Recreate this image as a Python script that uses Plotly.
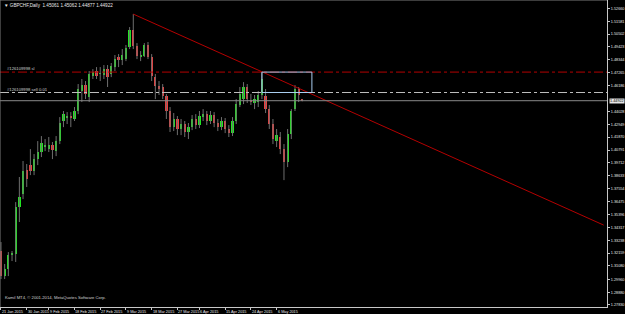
import plotly.graph_objects as go
import numpy as np

# ---- data (GBPCHF daily) ----
opens = [1.3233, 1.3023, 1.3082, 1.3199, 1.3207, 1.3601, 1.3710, 1.3911, 1.3953, 1.3903,
         1.4003, 1.4062, 1.4112, 1.4087, 1.4121, 1.4070, 1.4154, 1.4322, 1.4347, 1.4364,
         1.4339, 1.4406, 1.4573, 1.4623, 1.4523, 1.4699, 1.4741, 1.4716, 1.4707, 1.4757,
         1.4716, 1.4774, 1.4858, 1.4833, 1.4841, 1.4942, 1.5084, 1.4950, 1.4858, 1.4866,
         1.4959, 1.4858, 1.4690, 1.4615, 1.4607, 1.4531, 1.4406, 1.4271, 1.4339, 1.4255,
         1.4297, 1.4230, 1.4271, 1.4339, 1.4288, 1.4355, 1.4380, 1.4322, 1.4372, 1.4305,
         1.4271, 1.4322, 1.4255, 1.4221, 1.4322, 1.4456, 1.4506, 1.4607, 1.4498, 1.4473,
         1.4481, 1.4540, 1.4531, 1.4422, 1.4297, 1.4154, 1.4188, 1.4087, 1.3978, 1.4213,
         1.4422, 1.4590, 1.45061]
highs = [1.3308, 1.3124, 1.3224, 1.3233, 1.3643, 1.3853, 1.3987, 1.3962, 1.4087, 1.4045,
         1.4154, 1.4196, 1.4171, 1.4188, 1.4146, 1.4196, 1.4355, 1.4406, 1.4397, 1.4397,
         1.4439, 1.4632, 1.4674, 1.4657, 1.4741, 1.4757, 1.4774, 1.4774, 1.4791, 1.4791,
         1.4808, 1.4875, 1.4883, 1.4925, 1.4959, 1.5109, 1.5218, 1.4975, 1.4908, 1.4975,
         1.4984, 1.4883, 1.4716, 1.4657, 1.4632, 1.4548, 1.4439, 1.4389, 1.4364, 1.4339,
         1.4322, 1.4305, 1.4372, 1.4380, 1.4406, 1.4422, 1.4406, 1.4406, 1.4397, 1.4339,
         1.4355, 1.4347, 1.4288, 1.4355, 1.4506, 1.4607, 1.4648, 1.4632, 1.4548, 1.4540,
         1.4573, 1.4732, 1.4590, 1.4456, 1.4339, 1.4255, 1.4230, 1.4129, 1.4255, 1.4422,
         1.4623, 1.4607, 1.45062]
lows = [1.2998, 1.2998, 1.3023, 1.3149, 1.3141, 1.3476, 1.3668, 1.3769, 1.3869, 1.3869,
        1.3953, 1.4020, 1.4070, 1.4062, 1.4003, 1.4028, 1.4129, 1.4271, 1.4297, 1.4271,
        1.4322, 1.4380, 1.4481, 1.4506, 1.4481, 1.4674, 1.4674, 1.4657, 1.4674, 1.4607,
        1.4690, 1.4741, 1.4774, 1.4791, 1.4824, 1.4925, 1.4925, 1.4841, 1.4824, 1.4858,
        1.4841, 1.4657, 1.4506, 1.4540, 1.4506, 1.4339, 1.4230, 1.4238, 1.4204, 1.4204,
        1.4188, 1.4171, 1.4246, 1.4255, 1.4263, 1.4322, 1.4288, 1.4297, 1.4271, 1.4238,
        1.4246, 1.4221, 1.4188, 1.4196, 1.4297, 1.4439, 1.4464, 1.4473, 1.4456, 1.4422,
        1.4439, 1.4506, 1.4389, 1.4255, 1.4129, 1.4104, 1.4045, 1.3827, 1.3936, 1.4171,
        1.4406, 1.4481, 1.44877]
closes = [1.3023, 1.3082, 1.3199, 1.3216, 1.3601, 1.3685, 1.3903, 1.3836, 1.3903, 1.4003,
          1.4062, 1.4138, 1.4114, 1.4121, 1.4079, 1.4154, 1.4305, 1.4380, 1.4364, 1.4347,
          1.4406, 1.4590, 1.4623, 1.4548, 1.4716, 1.4732, 1.4699, 1.4724, 1.4757, 1.4690,
          1.4783, 1.4841, 1.4833, 1.4875, 1.4933, 1.5084, 1.4950, 1.4866, 1.4875, 1.4959,
          1.4858, 1.4699, 1.4615, 1.4590, 1.4531, 1.4406, 1.4271, 1.4339, 1.4255, 1.4297,
          1.4230, 1.4271, 1.4339, 1.4288, 1.4364, 1.4380, 1.4322, 1.4372, 1.4305, 1.4271,
          1.4322, 1.4255, 1.4221, 1.4322, 1.4464, 1.4548, 1.4607, 1.4506, 1.4489, 1.4506,
          1.4540, 1.4674, 1.4422, 1.4297, 1.4171, 1.4204, 1.4087, 1.3978, 1.4213, 1.4406,
          1.4590, 1.4540, 1.44922]

date_tick_idx = [0, 7, 13, 20, 27, 34, 41, 48, 54, 61, 68, 75]
date_tick_text = ["21 Jan 2015", "30 Jan 2015", "9 Feb 2015", "18 Feb 2015", "27 Feb 2015",
                  "9 Mar 2015", "18 Mar 2015", "27 Mar 2015", "6 Apr 2015", "15 Apr 2015",
                  "24 Apr 2015", "6 May 2015"]
price_ticks = [1.52660, 1.51581, 1.50502, 1.49423, 1.48344, 1.47265, 1.46186, 1.44028,
               1.42949, 1.41870, 1.40791, 1.39712, 1.38633, 1.37554, 1.36475, 1.35396,
               1.34317, 1.33238, 1.32159, 1.31080, 1.29960, 1.28880, 1.27830]

sl_level = 1.4732
entry_level = 1.4561
bid_level = 1.44922
order_id = "#126109998"
trend_x = [36, 164]
trend_y = [1.5218, 1.3450]
box_x = [71, 84.6]

title_text = "▼ GBPCHF,Daily  1.45061 1.45062 1.44877 1.44922"
copyright_text = "Kamil MT4, © 2001-2014, MetaQuotes Software Corp."

UP = "#22e622"
DOWN = "#f03c3c"
WICK = "#6e6e6e"
AXIS = "#c8c8c8"
FONT = "Liberation Sans"

# ---- figure ----
o = np.array(opens); h = np.array(highs); l = np.array(lows); c = np.array(closes)
n = len(o)
idx = np.arange(n)

wx, wy = [], []
for i in range(n):
    wx += [i, i, None]
    wy += [h[i], l[i], None]

fig = go.Figure()
fig.add_trace(go.Scatter(x=wx, y=wy, mode="lines", line=dict(color=WICK, width=1),
                         hoverinfo="skip", showlegend=False))
base = np.minimum(o, c)
height = np.maximum(np.abs(c - o), 0.0003)
colors = [UP if c[i] >= o[i] else DOWN for i in range(n)]
fig.add_trace(go.Bar(x=idx, y=height, base=base, width=0.62,
                     marker=dict(color=colors, line=dict(width=0)),
                     showlegend=False, hoverinfo="skip"))

# trend line
fig.add_trace(go.Scatter(x=trend_x, y=trend_y, mode="lines",
                         line=dict(color="#b40000", width=1), showlegend=False, hoverinfo="skip"))

# order lines
fig.add_hline(y=sl_level, line=dict(color="#b40000", width=1, dash="dashdot"))
fig.add_hline(y=entry_level, line=dict(color="#bdbdbd", width=1, dash="dashdot"))
fig.add_hline(y=bid_level, line=dict(color="#8a8a8a", width=1))

# rectangle
fig.add_shape(type="rect", x0=box_x[0], x1=box_x[1], y0=entry_level, y1=sl_level,
              line=dict(color="#a9cdf0", width=1), fillcolor="rgba(0,0,0,0)")

# frame (left / top)
fig.add_shape(type="line", xref="paper", yref="paper", x0=0, x1=1, y0=1, y1=1,
              line=dict(color="#7a7a7a", width=1))
fig.add_shape(type="line", xref="paper", yref="paper", x0=0, x1=0, y0=0, y1=1,
              line=dict(color="#7a7a7a", width=1))

SMALL = 3.8
ann = []
ann.append(dict(text=title_text, xref="paper", yref="paper", x=0.004, y=0.997,
                xanchor="left", yanchor="top", showarrow=False,
                font=dict(family=FONT, size=4.6, color="#e8e8e8")))
ann.append(dict(text=copyright_text, xref="paper", yref="paper", x=0.005, y=0.03,
                xanchor="left", yanchor="middle", showarrow=False,
                font=dict(family=FONT, size=4.2, color="#d0d0d0")))
ann.append(dict(text=order_id + " sl", xref="paper", yref="y", x=0.008, y=sl_level,
                xanchor="left", yanchor="bottom", showarrow=False, yshift=-1,
                font=dict(family=FONT, size=4.2, color="#d0d0d0")))
ann.append(dict(text=order_id + " sell 0.01", xref="paper", yref="y", x=0.008, y=entry_level,
                xanchor="left", yanchor="bottom", showarrow=False, yshift=-1,
                font=dict(family=FONT, size=4.2, color="#d0d0d0")))
ann.append(dict(text="%.5f" % bid_level, xref="paper", yref="y", x=1.0, y=bid_level,
                xanchor="left", yanchor="middle", showarrow=False, xshift=2,
                bgcolor="#e6e6e6", borderpad=0,
                font=dict(family=FONT, size=SMALL, color="#000000")))
for ti, tt in zip(date_tick_idx, date_tick_text):
    ann.append(dict(text=tt, xref="x", yref="paper", x=ti, y=0, xanchor="left",
                    yanchor="top", showarrow=False, yshift=-1, xshift=-1,
                    font=dict(family=FONT, size=SMALL, color="#e8e8e8")))

fig.update_layout(
    width=625, height=314,
    margin=dict(l=0, r=18, t=0, b=7, pad=0),
    paper_bgcolor="#000000", plot_bgcolor="#000000",
    bargap=0, showlegend=False,
    annotations=ann,
    xaxis=dict(range=[-0.27, 164.9], showgrid=False, zeroline=False,
               showline=True, linecolor=AXIS, linewidth=1,
               tickvals=date_tick_idx, ticktext=[""] * len(date_tick_idx),
               ticks="outside", ticklen=2, tickcolor=AXIS, fixedrange=True),
    yaxis=dict(range=[1.27639, 1.5336], side="right", showgrid=False, zeroline=False,
               showline=True, linecolor=AXIS, linewidth=1,
               tickvals=price_ticks, ticktext=["%.5f" % v for v in price_ticks],
               ticks="outside", ticklen=2, tickcolor=AXIS,
               tickfont=dict(family=FONT, size=SMALL, color="#e8e8e8"), fixedrange=True),
)

fig.write_html("out.html")
